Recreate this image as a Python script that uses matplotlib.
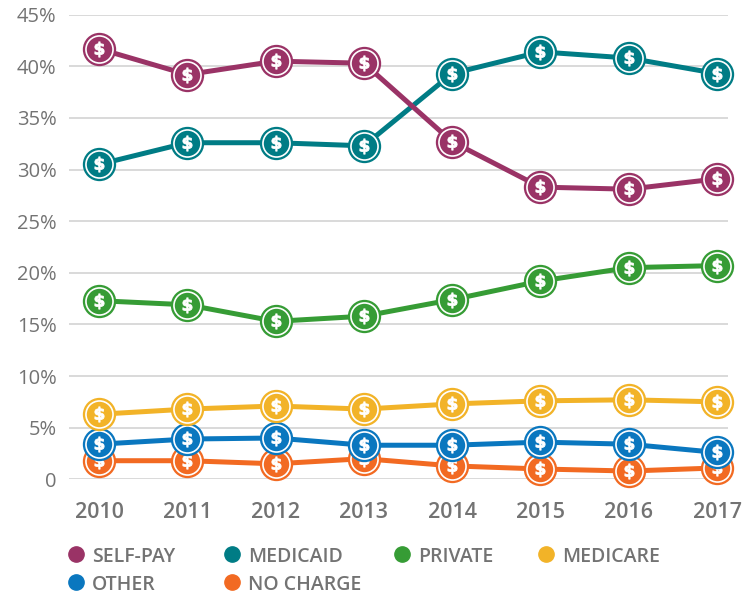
import matplotlib
matplotlib.use("Agg")
import matplotlib.pyplot as plt
from matplotlib.lines import Line2D

years = [2010, 2011, 2012, 2013, 2014, 2015, 2016, 2017]
self_pay = [41.7, 39.2, 40.5, 40.3, 32.7, 28.3, 28.1, 29.1]
medicaid = [30.5, 32.6, 32.6, 32.3, 39.3, 41.4, 40.8, 39.3]
private = [17.3, 16.9, 15.3, 15.8, 17.4, 19.2, 20.5, 20.7]
medicare = [6.3, 6.8, 7.1, 6.8, 7.3, 7.6, 7.7, 7.5]
other = [3.4, 3.9, 4.0, 3.3, 3.3, 3.6, 3.4, 2.6]
no_charge = [1.8, 1.8, 1.5, 2.0, 1.3, 1.0, 0.8, 1.1]

series_names = ["SELF-PAY", "MEDICAID", "PRIVATE", "MEDICARE", "OTHER", "NO CHARGE"]
series_values = [self_pay, medicaid, private, medicare, other, no_charge]
colors = ["#9A3366", "#007C85", "#369C35", "#F2B328", "#0A77BF", "#F26A22"]

y_ticks = [0, 5, 10, 15, 20, 25, 30, 35, 40, 45]
y_tick_labels = ["0", "5%", "10%", "15%", "20%", "25%", "30%", "35%", "40%", "45%"]

W, H = 754, 593
fig = plt.figure(figsize=(W / 100, H / 100), dpi=100)
ax = fig.add_axes([69 / W, (H - 479.3) / H, (728 - 69) / W, (479.3 - 14.7) / H])

font = "Open Sans"
gray = "#737373"

ax.set_ylim(0, 45)
ax.set_xlim(2010 - 30 / 88.29, 2017 + 11 / 88.29)
ax.set_yticks(y_ticks)
ax.set_yticklabels(y_tick_labels, fontsize=14.5, color=gray, family=font)
ax.set_xticks(years)
ax.set_xticklabels([str(y) for y in years], fontsize=15.5, color=gray, family=font,
                   fontweight="semibold")
ax.tick_params(axis="both", length=0)
ax.tick_params(axis="y", pad=9)
ax.tick_params(axis="x", pad=16)
for s in ax.spines.values():
    s.set_visible(False)
ax.grid(axis="y", color="#d9d9d9", linewidth=1.4)
ax.set_axisbelow(True)

n = len(series_names)
for i in reversed(range(n)):
    vals = series_values[i]
    c = colors[i]
    z = 10 + (n - i) * 4
    ax.plot(years, vals, color=c, linewidth=3.6, zorder=z, clip_on=False,
            solid_capstyle="round")
    ax.plot(years, vals, linestyle="none", marker="o", markersize=24,
            markerfacecolor=c, markeredgecolor=c, markeredgewidth=0,
            zorder=z + 1, clip_on=False)
    ax.plot(years, vals, linestyle="none", marker="o", markersize=19.5,
            markerfacecolor="none", markeredgecolor="white", markeredgewidth=1.2,
            zorder=z + 2, clip_on=False)
    ax.plot(years, vals, linestyle="none", marker=r"$\mathbf{\$}$", markersize=11,
            markerfacecolor="white", markeredgecolor="white", markeredgewidth=0.6,
            zorder=z + 3, clip_on=False)

# legend (manual)
leg_pos = [(76, 554), (232, 554), (402, 554), (546, 554), (76, 582), (232, 582)]
for (px, py), name, c in zip(leg_pos, series_names, colors):
    fig.add_artist(Line2D([px / W], [(H - py) / H], marker="o", markersize=11,
                          color=c, linestyle="none", transform=fig.transFigure))
    fig.text((px + 16) / W, (H - py) / H, name, fontsize=14, color=gray,
             family=font, fontweight="semibold", va="center_baseline", ha="left")

fig.savefig("out.png", dpi=100)
